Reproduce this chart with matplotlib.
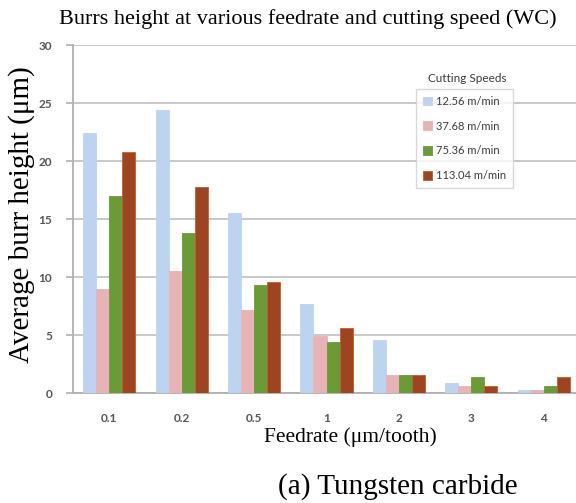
import matplotlib
matplotlib.use("Agg")
import matplotlib.pyplot as plt
import numpy as np

categories = ["0.1", "0.2", "0.5", "1", "2", "3", "4"]
series_names = ["12.56 m/min", "37.68 m/min", "75.36 m/min", "113.04 m/min"]
v_12_56 = [22.4, 24.4, 15.5, 7.7, 4.6, 0.9, 0.3]
v_37_68 = [9.0, 10.5, 7.2, 4.9, 1.6, 0.6, 0.3]
v_75_36 = [17.0, 13.8, 9.3, 4.4, 1.6, 1.4, 0.6]
v_113_04 = [20.8, 17.8, 9.6, 5.6, 1.6, 0.6, 1.4]
yticks = [0, 5, 10, 15, 20, 25, 30]

colors = ["#bcd4ef", "#e8b3b6", "#6b9b36", "#9e4420"]
edges = ["#bcd4ef", "#e8b3b6", "#6b9b36", "#c0602a"]

fig = plt.figure(figsize=(5.76, 5.03), dpi=100)
W, H = 576, 503
ax = fig.add_axes([73 / W, (H - 393.3) / H, 507 / W, 348.3 / H])

x = np.arange(len(categories))
bw = 0.18
all_vals = [v_12_56, v_37_68, v_75_36, v_113_04]
for i, (vals, c, e, name) in enumerate(zip(all_vals, colors, edges, series_names)):
    ax.bar(x + (i - 1.5) * bw, vals, width=bw, color=c, edgecolor=e, linewidth=0.6,
           label=name, zorder=3)

ax.set_xlim(-0.5, 6.5)
ax.set_ylim(0, 30)
ax.set_yticks(yticks)
ax.set_xticks(x)
ax.set_xticklabels(categories)
grid_c = "#c4c4c4"
ax.yaxis.grid(True, color=grid_c, linewidth=1.3, zorder=0)
ax.set_axisbelow(True)
for s in ["top", "right"]:
    ax.spines[s].set_visible(False)
for s in ["left", "bottom"]:
    ax.spines[s].set_color("#b0b0b0")
    ax.spines[s].set_linewidth(1.3)
ax.tick_params(axis="y", length=5, width=1.2, color="#b0b0b0", pad=10,
               labelsize=8.5, labelcolor="#555555")
ax.tick_params(axis="x", length=0, pad=14, labelsize=8.5, labelcolor="#555555")
for lab in ax.get_xticklabels() + ax.get_yticklabels():
    lab.set_fontfamily("Lato")
    lab.set_fontweight("bold")

serif = "Liberation Serif"
fig.text(308 / W, 1 - 19 / H, "Burrs height at various feedrate and cutting speed (WC)",
         ha="center", va="center", fontsize=16, family=serif)
fig.text(22 / W, 1 - 215 / H, "Average burr height (μm)", rotation=90,
         ha="center", va="center", fontsize=21, family=serif)
fig.text(350 / W, 1 - 437 / H, "Feedrate (μm/tooth)", ha="center", va="center",
         fontsize=15.5, family=serif)
fig.text(398 / W, 1 - 487 / H, "(a) Tungsten carbide", ha="center", va="center",
         fontsize=21, family=serif)

fig.text(467 / W, 1 - 79 / H, "Cutting Speeds", ha="center", va="center",
         fontsize=8.5, family="Lato", color="#3a3a3a")
leg = ax.legend(loc="upper left", bbox_to_anchor=(416 / W, 1 - 89 / H),
                bbox_transform=fig.transFigure, frameon=True, fancybox=False,
                prop={"family": "Lato", "size": 8}, labelspacing=1.25,
                handlelength=0.8, handleheight=0.8, handletextpad=0.4,
                borderpad=0.6, borderaxespad=0)
leg.get_frame().set_edgecolor("#cfcfcf")
leg.get_frame().set_linewidth(1.0)
for t in leg.get_texts():
    t.set_color("#3a3a3a")
leg.set_zorder(5)

fig.savefig("out.png", dpi=100)
